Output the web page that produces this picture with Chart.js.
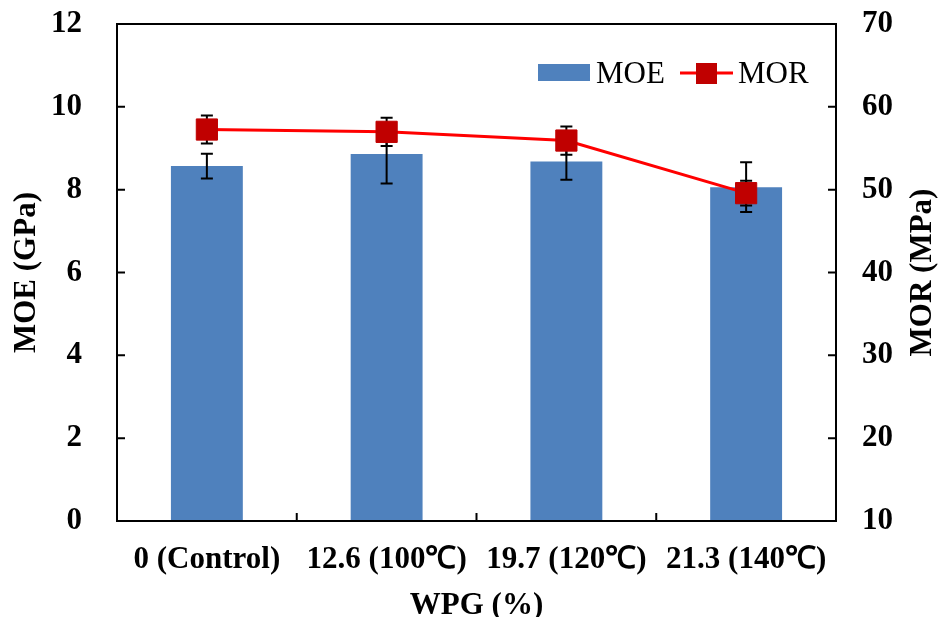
<!DOCTYPE html>
<html>
<head>
<meta charset="utf-8">
<script src="https://cdn.jsdelivr.net/npm/chart.js@4.4.1/dist/chart.umd.min.js"></script>
<style>
  html, body { margin: 0; padding: 0; background: #fff; }
  canvas { display: block; }
</style>
</head>
<body>
<canvas id="chart" width="945" height="617"></canvas>
<script>
// ── Data ─────────────────────────────────────────────────────
const categories = ['0 (Control)', '12.6 (100℃)', '19.7 (120℃)', '21.3 (140℃)'];
const moeValues  = [8.57, 8.86, 8.68, 8.06];   // GPa
const moeErrors  = [0.30, 0.71, 0.44, 0.60];
const morValues  = [57.26, 56.98, 55.93, 49.58]; // MPa
const morErrors  = [1.7, 1.7, 1.7, 1.5];
const moeTicks   = [0, 2, 4, 6, 8, 10, 12];
const morTicks   = [10, 20, 30, 40, 50, 60, 70];

const FONT     = '"Liberation Serif", "Times New Roman", serif';
const BAR_CLR  = '#4F81BD';
const LINE_CLR = '#FF0000';
const MARK_CLR = '#C00000';

// ── Error bars: drawn just before the MOR line so markers sit on top ──
const errorBars = {
  id: 'errorBars',
  beforeDatasetDraw(chart, args) {
    if (args.meta.type !== 'line') return;
    const { ctx, scales } = chart;
    const draw = (vals, errs, yScale) => {
      vals.forEach((v, i) => {
        const x  = scales.x.getPixelForValue(i);
        const y1 = yScale.getPixelForValue(v + errs[i]);
        const y2 = yScale.getPixelForValue(v - errs[i]);
        ctx.beginPath();
        ctx.moveTo(x, y1); ctx.lineTo(x, y2);
        ctx.moveTo(x - 6, y1); ctx.lineTo(x + 6, y1);
        ctx.moveTo(x - 6, y2); ctx.lineTo(x + 6, y2);
        ctx.stroke();
      });
    };
    ctx.save();
    ctx.strokeStyle = '#000';
    ctx.lineWidth = 2;
    draw(moeValues, moeErrors, scales.y);
    draw(morValues, morErrors, scales.y2);
    ctx.restore();
  }
};

// ── Box frame with inward ticks, right title, legend ─────────
const frame = {
  id: 'frame',
  afterDraw(chart) {
    const { ctx, chartArea: a, scales } = chart;
    ctx.save();
    ctx.strokeStyle = '#000';
    ctx.lineWidth = 2;
    ctx.strokeRect(a.left, a.top, a.right - a.left, a.bottom - a.top);
    ctx.beginPath();
    moeTicks.forEach(t => {
      const y = scales.y.getPixelForValue(t);
      ctx.moveTo(a.left, y); ctx.lineTo(a.left + 8, y);
    });
    morTicks.forEach(t => {
      const y = scales.y2.getPixelForValue(t);
      ctx.moveTo(a.right, y); ctx.lineTo(a.right - 8, y);
    });
    for (let i = 0; i < categories.length - 1; i++) {
      const x = (scales.x.getPixelForValue(i) + scales.x.getPixelForValue(i + 1)) / 2;
      ctx.moveTo(x, a.bottom); ctx.lineTo(x, a.bottom - 8);
    }
    ctx.stroke();

    // right axis title, reading bottom-to-top like the left one
    ctx.fillStyle = '#000';
    ctx.font = 'bold 31px ' + FONT;
    ctx.textAlign = 'center';
    ctx.textBaseline = 'middle';
    ctx.translate(923, (a.top + a.bottom) / 2);
    ctx.rotate(-Math.PI / 2);
    ctx.fillText('MOR (MPa)', 0, 0);
    ctx.restore();

    // legend
    ctx.save();
    const r = a.right, t = a.top;
    ctx.fillStyle = BAR_CLR;
    ctx.fillRect(r - 298, t + 40, 52, 17);
    ctx.fillStyle = '#000';
    ctx.font = '31px ' + FONT;
    ctx.textBaseline = 'alphabetic';
    ctx.fillText(chart.data.datasets[0].label, r - 240, t + 59);
    ctx.strokeStyle = LINE_CLR;
    ctx.lineWidth = 3;
    ctx.beginPath();
    ctx.moveTo(r - 156, t + 49); ctx.lineTo(r - 103, t + 49);
    ctx.stroke();
    ctx.fillStyle = MARK_CLR;
    ctx.fillRect(r - 140, t + 39, 21, 21);
    ctx.fillStyle = '#000';
    ctx.fillText(chart.data.datasets[1].label, r - 98, t + 59);
    ctx.restore();
  }
};

const tickFont  = { family: FONT, size: 31, weight: 'bold' };
const titleFont = { family: FONT, size: 31, weight: 'bold' };
const noGrid    = { display: false, drawTicks: false };

new Chart(document.getElementById('chart'), {
  type: 'bar',
  data: {
    labels: categories,
    datasets: [
      {
        label: 'MOE',
        data: moeValues,
        backgroundColor: BAR_CLR,
        borderWidth: 0,
        barPercentage: 0.4,
        categoryPercentage: 1,
        yAxisID: 'y',
        order: 1,
      },
      {
        label: 'MOR',
        type: 'line',
        data: morValues,
        borderColor: LINE_CLR,
        borderWidth: 3,
        pointStyle: 'rect',
        pointRadius: 15,
        pointBackgroundColor: MARK_CLR,
        pointBorderColor: MARK_CLR,
        pointBorderWidth: 1,
        tension: 0,
        yAxisID: 'y2',
        order: 0,
      },
    ],
  },
  options: {
    responsive: false,
    animation: false,
    layout: { padding: { top: 24, left: 0, right: 0, bottom: 0 } },
    plugins: {
      legend: { display: false },
      tooltip: { enabled: false },
    },
    scales: {
      x: {
        grid: noGrid,
        border: { display: false },
        ticks: { color: '#000', font: tickFont, padding: 20, maxRotation: 0, autoSkip: false },
        title: { display: true, text: 'WPG (%)', color: '#000', font: titleFont, padding: { top: 0, bottom: -8 } },
        afterFit: s => { s.height = 96; s.paddingLeft = 0; s.paddingRight = 0; },
      },
      y: {
        position: 'left',
        min: 0, max: 12,
        grid: noGrid,
        border: { display: false },
        ticks: { stepSize: 2, color: '#000', font: tickFont, padding: 35 },
        title: { display: true, text: 'MOE (GPa)', color: '#000', font: titleFont, padding: { top: 8, bottom: 0 } },
        afterFit: s => { s.width = 117; s.paddingTop = 0; s.paddingBottom = 0; },
      },
      y2: {
        position: 'right',
        min: 10, max: 70,
        grid: noGrid,
        border: { display: false },
        ticks: { stepSize: 10, color: '#000', font: tickFont, padding: 26 },
        afterFit: s => { s.width = 109; s.paddingTop = 0; s.paddingBottom = 0; },
      },
    },
  },
  plugins: [errorBars, frame],
});
</script>
</body>
</html>
